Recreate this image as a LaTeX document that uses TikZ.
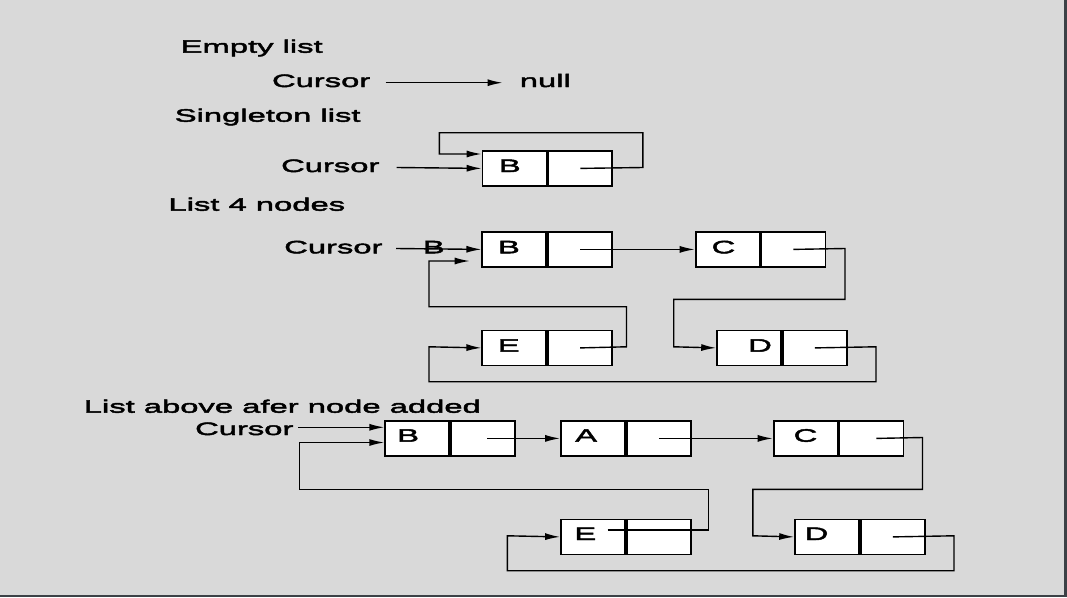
\documentclass[tikz,border=0pt]{standalone}
\usepackage{fontspec}
\newfontfamily\wf[FakeStretch=1.82,FakeBold=2.5]{Liberation Sans}
\usetikzlibrary{arrows.meta}
\definecolor{bg}{HTML}{D9D9D9}
\definecolor{edge}{HTML}{3C4146}
\tikzset{
  txt/.style={font=\wf\fontsize{18}{20}\selectfont, inner sep=0pt, anchor=base west},
  cell/.style={draw, fill=white, line width=1.8pt, inner sep=0pt,
    minimum width=64pt, minimum height=35pt, anchor=north west},
  conn/.style={line width=1.4pt, black},
  arr/.style={conn, -{Latex[length=15pt,width=7pt]}}
}
\newcommand\lnode[3]{%
  \node[cell] (#1a) at (#2,#3) {};
  \node[cell] (#1b) at (#1a.north east) {};
}
\begin{document}
\begin{tikzpicture}[x=1pt,y=-1pt]
\useasboundingbox (0,0) rectangle (1067,597);
\fill[bg] (0,0) rectangle (1067,597);
\fill[edge] (1064,0) rectangle (1067,597);
\fill[edge] (0,595) rectangle (1067,597);

% ---------- Empty list
\node[txt] (tEmpty) at (180.5,52.7) {Empty list};
\node[txt] (c0) at (271.8,87) {Cursor};
\node[txt] (null) at (519.6,87) {null};
\coordinate (c0s) at (385.7,82.7);
\coordinate (c0e) at (502.5,82.7);
\draw[arr] (c0s) -- (c0e);

% ---------- Singleton list
\node[txt] (tSingle) at (174.6,121.7) {Singleton list};
\node[txt] (c1) at (280.9,172) {Cursor};
\lnode{S1}{481.6}{150}
\node[txt] (S1t) at (498.6,172) {B};
\coordinate (c1s) at (396.6,167.5);
\draw[arr] (c1s) -- (S1a.west);
\draw[arr] (S1b.center) -- (642.8,167.5) -- (642.8,132.7) -- (439.4,132.7)
  -- (439.4,154) -- (S1a.west |- 0,154);

% ---------- List 4 nodes
\node[txt] (tFour) at (168.3,210.7) {List 4 nodes};
\node[txt] (c2) at (284,253.3) {Cursor};
\lnode{B2}{481.4}{231}
\lnode{C2}{694.7}{231}
\lnode{E2}{481.4}{329.5}
\lnode{D2}{716.2}{329.5}
\node[txt] (B2t) at (497.8,253.3) {B};
\node[txt] (C2t) at (711.4,253.3) {C};
\node[txt] (E2t) at (497.6,351.7) {E};
\node[txt] (D2t) at (748,351.7) {D};
\coordinate (c2s) at (396,248.5);
\draw[arr] (c2s) -- (B2a.west);
\node[txt] (c2b) at (422.6,253.3) {B};
\draw[arr] (B2b.center) -- (C2a.west);
\draw[arr] (C2b.center) -- (845,248.5) -- (845,299.3) -- (673.7,299.3)
  -- (673.7,346.8) -- (D2a.west);
\draw[arr] (D2b.center) -- (876,346.8) -- (876,381.7) -- (429,381.7)
  -- (429,346.8) -- (E2a.west);
\coordinate (E2end) at (469.7,261);
\draw[arr] (E2b.center) -- (626.5,346.8) -- (626.5,306.7) -- (429,306.7)
  -- (429,261) -- (E2end);

% ---------- List above after node added
\node[txt] (tAfter) at (83.6,412.7) {List above afer node added};
\node[txt] (c3) at (194.9,435) {Cursor};
\lnode{B3}{384.3}{420}
\lnode{A3}{560.1}{420}
\lnode{C3}{772.7}{420}
\lnode{E3}{560.1}{518.5}
\lnode{D3}{794.2}{518.5}
\node[txt] (B3t) at (397,441.7) {B};
\node[txt] (A3t) at (575,441.7) {A};
\node[txt] (C3t) at (793.4,441.7) {C};
\node[txt] (E3t) at (574.2,540) {E};
\node[txt] (D3t) at (804.5,540) {D};
\coordinate (c3s) at (298.4,427.3);
\draw[arr] (c3s) -- (B3a.west |- c3s);
\draw[arr] ([xshift=4pt]B3b.center) -- (A3a.west);
\draw[arr] (A3b.center) -- (C3a.west);
\draw[arr] ([xshift=5pt]C3b.center) -- (922.5,437.5) -- (922.5,489.3) -- (752.8,489.3)
  -- (752.8,535.8) -- (D3a.west);
\draw[arr] (D3b.center) -- (954,535.8) -- (954,570.7) -- (507.4,570.7)
  -- (507.4,535.8) -- (E3a.west);
\coordinate (E3s) at (607.7,530);
\draw[arr] (E3s) -- (708.3,530) -- (708.3,489.3) -- (299.6,489.3)
  -- (299.6,442.5) -- (B3a.west |- 0,442.5);
\end{tikzpicture}
\end{document}
